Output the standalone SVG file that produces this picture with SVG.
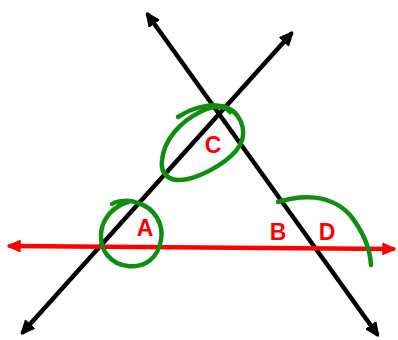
<svg xmlns="http://www.w3.org/2000/svg" width="398" height="340" viewBox="0 0 398 340">
<defs>
<marker id="ab" markerUnits="userSpaceOnUse" viewBox="0 0 14 14" refX="11" refY="7" markerWidth="14" markerHeight="14" orient="auto-start-reverse">
<path d="M1,1.5 L13,7 L1,12.5 Z" fill="#000" stroke="#000" stroke-width="2" stroke-linejoin="round"/>
</marker>
<marker id="ar" markerUnits="userSpaceOnUse" viewBox="0 0 14 14" refX="11" refY="7" markerWidth="14" markerHeight="14" orient="auto-start-reverse">
<path d="M1,1.5 L13,7 L1,12.5 Z" fill="#f00" stroke="#f00" stroke-width="1.5" stroke-linejoin="round"/>
</marker>
<style>
.blk{stroke:#000;stroke-width:4.5;stroke-linecap:round;fill:none}
.red{stroke:#f00;stroke-width:4.5;stroke-linecap:round;fill:none}
.grn{stroke:#0f8f0f;stroke-width:4.5;stroke-linecap:round;stroke-linejoin:round;fill:none}
.lbl{font-family:"Liberation Sans",Arial,sans-serif;font-weight:bold;font-size:23px;fill:#f00;text-anchor:middle}
</style>
</defs>
<rect width="398" height="340" fill="#fff"/>
<g id="connectors">
<line class="blk" x1="377" y1="334" x2="148" y2="15" marker-start="url(#ab)" marker-end="url(#ab)"/>
<line class="blk" x1="23" y1="332" x2="291" y2="34" marker-start="url(#ab)" marker-end="url(#ab)"/>
<line class="red" x1="10" y1="246" x2="393" y2="249" marker-start="url(#ar)" marker-end="url(#ar)"/>
</g>
<g id="mark-C">
<path class="grn" d="M178,117 C195,106 220,100 230,112"/>
<path class="grn" d="M222,106 C240,110 248,130 240,145 C232,160 205,175 188,179 C170,183 160,175 162,160 C164,140 180,122 200,112 C210,107 220,105 228,109"/>
</g>
<g id="mark-A">
<path class="grn" d="M112,204 C118,200 130,200 138,203 C155,208 164,225 161,240 C158,258 145,268 128,266 C110,264 100,250 101,234 C102,218 114,206 128,202"/>
</g>
<g id="mark-D">
<path class="grn" d="M278,202 C300,195 330,193 350,215 C362,230 370,248 371,265"/>
</g>
<g id="node-A"><text class="lbl" x="145" y="236">A</text></g>
<g id="node-B"><text class="lbl" x="278" y="240">B</text></g>
<g id="node-C"><text class="lbl" x="213" y="153">C</text></g>
<g id="node-D"><text class="lbl" x="327" y="240">D</text></g>
</svg>
